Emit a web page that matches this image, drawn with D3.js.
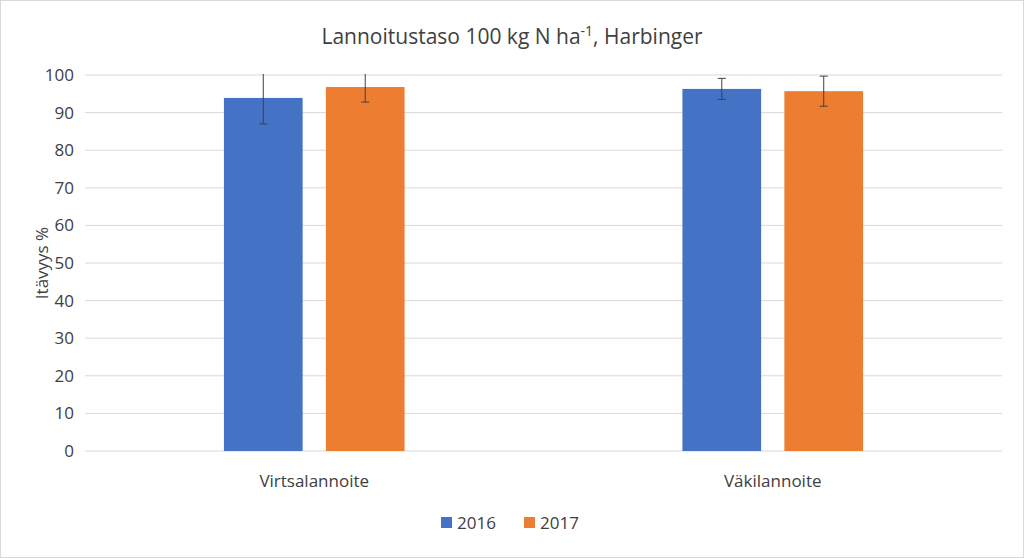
<!DOCTYPE html>
<html><head><meta charset="utf-8">
<script src="https://cdn.jsdelivr.net/npm/d3@7"></script>
<style>body{margin:0;background:#fff}svg{display:block}text{font-family:"Open Sans",sans-serif;fill:#404040}</style>
</head><body><svg id="c" width="1024" height="558"></svg>
<script>
const categories = ["Virtsalannoite", "Väkilannoite"];
const series = ["2016", "2017"];
const values2016 = [93.9, 96.3];
const values2017 = [96.8, 95.7];
const err2016 = [6.9, 2.8];
const err2017 = [4.0, 4.0];
const yTicks = [0,10,20,30,40,50,60,70,80,90,100];
const colors = ["#4472C4", "#ED7D31"];

const svg = d3.select("#c");
svg.append("rect").attr("x",0.5).attr("y",0.5).attr("width",1023).attr("height",557).attr("fill","#fff").attr("stroke","#d9d9d9");
const L=85,R=1002,T=75,B=451;
const y=d3.scaleLinear().domain([0,100]).range([B,T]);
const x0=d3.scaleBand().domain(categories).range([L,R]);
const bw=x0.bandwidth();
const x1=d3.scaleBand().domain(series).range([bw*0.303,bw*0.697]).paddingInner(0.228);

svg.append("g").selectAll("line").data(yTicks).join("line")
 .attr("x1",L).attr("x2",R).attr("y1",d=>y(d)).attr("y2",d=>y(d))
 .attr("stroke","#d9d9d9");
svg.append("g").selectAll("text").data(yTicks).join("text")
 .attr("x",L-11).attr("y",d=>y(d)+6).attr("text-anchor","end").attr("font-size",17).text(d=>d);

const data=[values2016,values2017], errs=[err2016,err2017];
categories.forEach((c,i)=>{
 series.forEach((s,j)=>{
  const v=data[j][i], e=errs[j][i];
  const bx=x0(c)+x1(s), w=x1.bandwidth(), cx=bx+w/2;
  svg.append("rect").attr("x",bx).attr("y",y(v)).attr("width",w).attr("height",B-y(v)).attr("fill",colors[j]);
  const g=svg.append("g").attr("stroke","#404040").attr("stroke-width",1);
  const top=Math.max(y(v+e),T-1);
  g.append("line").attr("x1",cx).attr("x2",cx).attr("y1",top).attr("y2",y(v-e));
  if(y(v+e)>=T-1) g.append("line").attr("x1",cx-4).attr("x2",cx+4).attr("y1",y(v+e)).attr("y2",y(v+e));
  g.append("line").attr("x1",cx-4).attr("x2",cx+4).attr("y1",y(v-e)).attr("y2",y(v-e));
 });
 svg.append("text").attr("x",x0(c)+bw/2).attr("y",487).attr("text-anchor","middle").attr("font-size",17).text(c);
});

const t=svg.append("text").attr("x",512).attr("y",44).attr("text-anchor","middle").attr("font-size",21);
t.append("tspan").text("Lannoitustaso 100 kg N ha");
t.append("tspan").attr("font-size",14).attr("dy",-8).text("-1");
t.append("tspan").attr("dy",8).text(", Harbinger");

svg.append("text").attr("transform","translate(48,263) rotate(-90)").attr("text-anchor","middle").attr("font-size",17).text("Itävyys %");

const lg=[{s:"2016",x:441},{s:"2017",x:524}];
lg.forEach((d,j)=>{
 svg.append("rect").attr("x",d.x).attr("y",517).attr("width",11).attr("height",11).attr("fill",colors[j]);
 svg.append("text").attr("x",d.x+16).attr("y",529).attr("font-size",17).text(d.s);
});
</script></body></html>
